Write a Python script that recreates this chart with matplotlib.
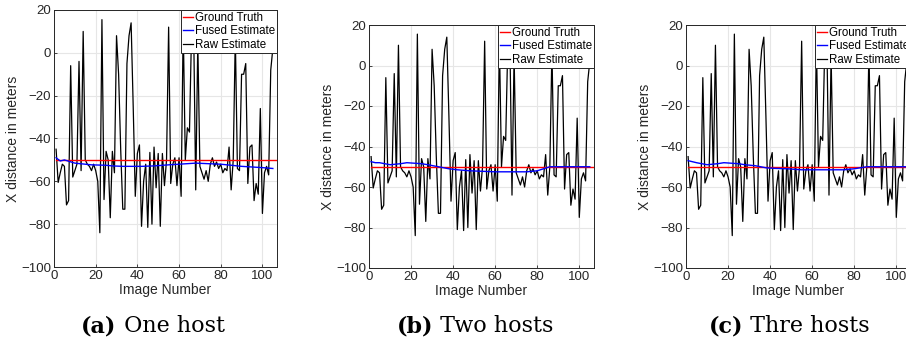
import matplotlib
matplotlib.use('Agg')
import matplotlib.pyplot as plt

# raw estimate (shared by all three runs), images 1..105
image_numbers = list(range(1, 106))
raw_estimate = [
    -45, -60.5, -56, -52, -53, -71, -69, -6, -58, -55,
    -52, -4, -55, 10, -50, -52, -53, -55, -52, -55,
    -60, -84, 15.5, -68.5, -46, -50, -77, -46, -56, 8,
    -10, -45, -73, -73, -5, 8, 14, -25, -67, -47,
    -43, -81, -60, -52, -81.5, -46.5, -80, -44, -63, -47,
    -81, -47, -62, -50, 12, -61, -52, -49, -62, -49,
    -67, 13, -50, -35, -37, 10, 12, -64, 5, -53,
    -56, -59, -55, -60, -52, -49, -53, -51, -54, -52,
    -56, -54, -55, -44, -64, -50, 8, -54, -55, -10,
    -10, -5, -61, -44, -43, -69, -61, -66, -26, -75,
    -56, -53, -57, -8, 2,
]

ground_truth_x = [1, 107]
ground_truth_y = [-50, -50]

# fused estimate read at a coarser set of images
fused_x = [1, 3, 5, 10, 15, 18, 25, 28, 33, 38, 42, 48, 55, 60, 68, 75, 80, 83, 86, 90, 95, 100, 105]
fused_one = [-49, -50.5, -50, -51.5, -52, -52.3, -52.5, -52.8, -53, -53, -53, -52.8, -52.3, -52, -51.5, -51.8, -52, -52.3, -52.6, -53, -53.3, -53.6, -54]
fused_two = [-47.5, -48, -48, -49, -48.5, -48, -48.5, -49, -50, -51, -51.5, -52, -52.3, -52.5, -52.5, -52.5, -52, -51, -50, -50, -50, -50, -50]
fused_three = [-47, -47.5, -48, -49, -48.5, -48, -48.5, -49, -49.5, -50.5, -50.8, -51, -51.5, -51.5, -51.5, -51.5, -51, -50.5, -50, -50, -50, -50, -50]

captions = [('(a)', 'One host'), ('(b)', 'Two hosts'), ('(c)', 'Thre hosts')]
fused_runs = [fused_one, fused_two, fused_three]

W, H = 906, 347
fig = plt.figure(figsize=(W / 100, H / 100), dpi=100)

# axes boxes in pixels: left, top, right, bottom
boxes = [(54, 10, 277, 267), (369, 25, 594, 268), (686, 25, 911, 268)]
caption_x = [153, 475, 789]
ink = '#262626'

for i, (l, t, r, b) in enumerate(boxes):
    ax = fig.add_axes([l / W, 1 - b / H, (r - l) / W, (b - t) / H])
    ax.plot(ground_truth_x, ground_truth_y, color='red', lw=1.0, label='Ground Truth', zorder=3)
    ax.plot(fused_x, fused_runs[i], color='blue', lw=1.0, label='Fused Estimate', zorder=4)
    ax.plot(image_numbers, raw_estimate, color='black', lw=0.9, label='Raw Estimate', zorder=2)
    ax.set_xlim(0, 107)
    ax.set_ylim(-100, 20)
    ax.set_xticks([0, 20, 40, 60, 80, 100])
    ax.set_yticks([-100, -80, -60, -40, -20, 0, 20])
    ax.grid(True, color='#e6e6e6', lw=0.8)
    ax.set_axisbelow(True)
    for s in ax.spines.values():
        s.set_color(ink)
        s.set_linewidth(0.7)
    ax.tick_params(direction='in', length=2.5, width=0.6, colors=ink,
                   labelsize=9.5, pad=2, top=False, right=False)
    for lab in ax.get_xticklabels() + ax.get_yticklabels():
        lab.set_family('Liberation Sans')
    ax.set_xlabel('Image Number', fontsize=10, color=ink, family='Liberation Sans', labelpad=1)
    ax.set_ylabel('X distance in meters', fontsize=10, color=ink, family='Liberation Sans', labelpad=1)
    leg = ax.legend(loc='upper right', prop={'family': 'Liberation Sans', 'size': 8.3},
                    handlelength=0.9, handletextpad=0.15, labelspacing=0.15, borderpad=0.15,
                    borderaxespad=0, fancybox=False, framealpha=1)
    leg.get_frame().set_edgecolor(ink)
    leg.get_frame().set_linewidth(0.7)

    # caption: bold tag followed by plain text, centred as a pair
    tag, name = captions[i]
    cy = 1 - 326 / H
    t_tag = fig.text(0, cy, tag, ha='left', va='center', fontsize=16,
                     family='DejaVu Serif', weight='bold')
    t_name = fig.text(0, cy, ' ' + name, ha='left', va='center', fontsize=16,
                      family='DejaVu Serif')
    fig.canvas.draw()
    r = fig.canvas.get_renderer()
    w1 = t_tag.get_window_extent(r).width
    w2 = t_name.get_window_extent(r).width
    x0 = caption_x[i] - (w1 + w2) / 2
    t_tag.set_x(x0 / W)
    t_name.set_x((x0 + w1) / W)

fig.savefig('out.png', dpi=100)
